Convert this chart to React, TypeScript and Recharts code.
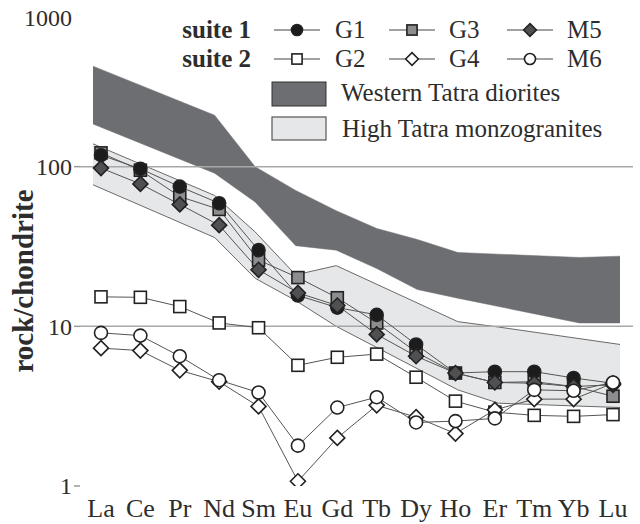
import { ComposedChart, Line, Area, XAxis, YAxis, ReferenceLine, ReferenceArea, Legend } from "recharts"

const FONT = "Liberation Serif, Times New Roman, Times, serif"
const INK = "#2d2d2d"

// chondrite-normalised REE
const elements = ["La", "Ce", "Pr", "Nd", "Sm", "Eu", "Gd", "Tb", "Dy", "Ho", "Er", "Tm", "Yb", "Lu"]
const g1 = [118, 97, 75, 59, 30, 15.6, 13.1, 11.8, 7.7, 5.1, 5.2, 5.2, 4.75, 4.4]
const g3 = [122, 95, 65, 54, 26, 20.2, 15.1, 10.5, 6.9, 5.1, 4.45, 4.5, 4.2, 3.65]
const m5 = [98, 78, 58, 43, 22.6, 16.2, 13.5, 8.9, 6.5, 5.1, 4.45, 4.4, 4.2, 4.3]
const g2 = [15.3, 15.2, 13.3, 10.5, 9.8, 5.7, 6.4, 6.7, 4.8, 3.4, 2.9, 2.77, 2.73, 2.8]
const g4 = [7.3, 7.05, 5.3, 4.5, 3.15, 1.07, 2.0, 3.2, 2.7, 2.13, 3.0, 3.5, 3.5, 4.4]
const m6 = [9.1, 8.75, 6.5, 4.6, 3.85, 1.79, 3.1, 3.6, 2.5, 2.55, 2.65, 4.0, 3.95, 4.45]

// reference fields (only the polygon vertices, null = straight edge through)
const darkLow = [185, null, null, 91, 60, 32, 30, 23, 17, 15, null, null, 10.5, 10.5]
const darkHigh = [426, null, null, 210, 100, 71, 53, 41, 35, 29, null, null, 27, 27.5]
const lightLow = [77, null, null, 36, 20, 14.5, 10, null, null, 4.0, 3.3, null, null, 3.1]
const lightHigh = [139, null, null, 66, 39, 21, 24, null, null, 10.7, 9.9, null, null, 7.7]

const yTicks = [1, 10, 100, 1000]

const data = elements.map((el, i) => ({
  el,
  G1: g1[i],
  G3: g3[i],
  M5: m5[i],
  G2: g2[i],
  G4: g4[i],
  M6: m6[i],
  dark: [darkLow[i], darkHigh[i]],
  light: [lightLow[i], lightHigh[i]],
}))

type Shape = "circle" | "square" | "diamond"

const series: { key: string; shape: Shape; fill: string }[] = [
  { key: "G3", shape: "square", fill: "#8d8d8f" },
  { key: "G1", shape: "circle", fill: "#1c1c1c" },
  { key: "M5", shape: "diamond", fill: "#505052" },
  { key: "G2", shape: "square", fill: "#ffffff" },
  { key: "G4", shape: "diamond", fill: "#ffffff" },
  { key: "M6", shape: "circle", fill: "#ffffff" },
]

const Marker = ({ cx, cy, shape, fill, s = 1 }: { cx: number; cy: number; shape: Shape; fill: string; s?: number }) => {
  if (cx == null || cy == null) return null
  if (shape === "circle") {
    return <circle cx={cx} cy={cy} r={6.5 * s} fill={fill} stroke="#222" strokeWidth={1.6} />
  }
  if (shape === "square") {
    const h = 6 * s
    return <rect x={cx - h} y={cy - h} width={2 * h} height={2 * h} fill={fill} stroke="#222" strokeWidth={1.6} />
  }
  const h = 7.5 * s
  return (
    <polygon
      points={`${cx},${cy - h} ${cx + h},${cy} ${cx},${cy + h} ${cx - h},${cy}`}
      fill={fill}
      stroke="#222"
      strokeWidth={1.6}
    />
  )
}

const legendRows = [
  { title: "suite 1", keys: ["G1", "G3", "M5"], y: 30 },
  { title: "suite 2", keys: ["G2", "G4", "M6"], y: 59 },
]
const legendCols = [297, 412, 530]
const legendText = [335, 449, 567]

const LegendBox = () => (
  <svg width={640} height={150} style={{ display: "block" }}>
    <g fontFamily={FONT} fill={INK}>
      {legendRows.map((row) => (
        <g key={row.title}>
          <text x={251} y={row.y + 8} textAnchor="end" fontWeight="bold" fontSize={25}>
            {row.title}
          </text>
          {row.keys.map((k, j) => {
            const s = series.find((d) => d.key === k)!
            return (
              <g key={k}>
                <line x1={legendCols[j] - 23} x2={legendCols[j] + 23} y1={row.y} y2={row.y} stroke="#444" strokeWidth={1} />
                <Marker cx={legendCols[j]} cy={row.y} shape={s.shape} fill={s.fill} s={0.85} />
                <text x={legendText[j]} y={row.y + 8} fontSize={25}>
                  {k}
                </text>
              </g>
            )
          })}
        </g>
      ))}
      <rect x={272} y={82} width={54} height={24} fill="#6d6e71" stroke="#333" strokeWidth={1} />
      <text x={341} y={101} fontSize={25}>
        Western Tatra diorites
      </text>
      <rect x={272} y={117} width={54} height={23} fill="#e6e7e8" stroke="#555" strokeWidth={1.2} />
      <text x={342} y={137} fontSize={25}>
        High Tatra monzogranites
      </text>
    </g>
  </svg>
)

// tick label plus a short tick mark (none at the top edge)
const YTick = (props: any) => {
  const { x, y, payload } = props
  const top = payload.value === 1000
  return (
    <g>
      {!top && <line x1={x + 2} x2={x + 8} y1={y} y2={y} stroke="#9a9a9a" strokeWidth={1.5} />}
      <text x={x} y={y + (top ? 9 : 0)} dy="0.35em" textAnchor="end" fontSize={24} fontFamily={FONT} fill={INK}>
        {payload.value}
      </text>
    </g>
  )
}

const YTitle = () => (
  <text
    x={33}
    y={281}
    transform="rotate(-90, 33, 281)"
    textAnchor="middle"
    fontSize={29}
    fontWeight="bold"
    fontFamily={FONT}
    fill={INK}
  >
    rock/chondrite
  </text>
)

export default function App() {
  return (
    <div style={{ position: "absolute", left: 0, top: 0 }}>
      <ComposedChart width={640} height={524} data={data} margin={{ top: 7, right: 7, bottom: 0, left: 0 }}>
        <XAxis
          dataKey="el"
          type="category"
          scale="point"
          padding={{ left: 21, right: 20 }}
          height={38}
          axisLine={false}
          tickLine={false}
          tickSize={6}
          tickMargin={7}
          interval={0}
          tick={{ fontSize: 26, fill: INK, fontFamily: FONT }}
        />
        <XAxis xAxisId="band" dataKey="el" type="category" scale="point" padding={{ left: 13, right: 13 }} hide />
        <XAxis xAxisId="frame" dataKey="el" type="category" scale="point" padding={{ left: 0, right: 0 }} hide />
        <YAxis
          type="number"
          scale="log"
          domain={[1, 1000]}
          allowDataOverflow
          ticks={yTicks}
          width={80}
          axisLine={false}
          tickLine={false}
          tickSize={6}
          tickMargin={2}
          tick={<YTick />}
          label={<YTitle />}
        />
        <Area
          xAxisId="band"
          dataKey="dark"
          type="linear"
          fill="#6d6e71"
          fillOpacity={1}
          stroke="#6d6e71"
          strokeWidth={0.5}
          connectNulls
          dot={false}
          activeDot={false}
          isAnimationActive={false}
        />
        <Area
          xAxisId="band"
          dataKey="light"
          type="linear"
          fill="#e6e7e8"
          fillOpacity={1}
          stroke="#6a6a6a"
          strokeWidth={1}
          connectNulls
          dot={false}
          activeDot={false}
          isAnimationActive={false}
        />
        <ReferenceLine xAxisId="frame" y={100} stroke="#a8a8a8" strokeWidth={1.5} />
        <ReferenceLine xAxisId="frame" y={10} stroke="#a8a8a8" strokeWidth={1.5} />
        {series.map((s) => (
          <Line
            key={s.key}
            dataKey={s.key}
            type="linear"
            stroke="#555"
            strokeWidth={1}
            activeDot={false}
            isAnimationActive={false}
            dot={(p: any) => <Marker key={`${s.key}-${p.index}`} cx={p.cx} cy={p.cy} shape={s.shape} fill={s.fill} />}
          />
        ))}
        <ReferenceArea xAxisId="frame" fill="none" stroke="#3f3f3f" strokeWidth={3} ifOverflow="visible" />
        <Legend
          layout="horizontal"
          verticalAlign="middle"
          align="center"
          wrapperStyle={{ position: "absolute", left: 0, top: 0, width: 640, height: 150 }}
          content={() => <LegendBox />}
        />
      </ComposedChart>
    </div>
  )
}
